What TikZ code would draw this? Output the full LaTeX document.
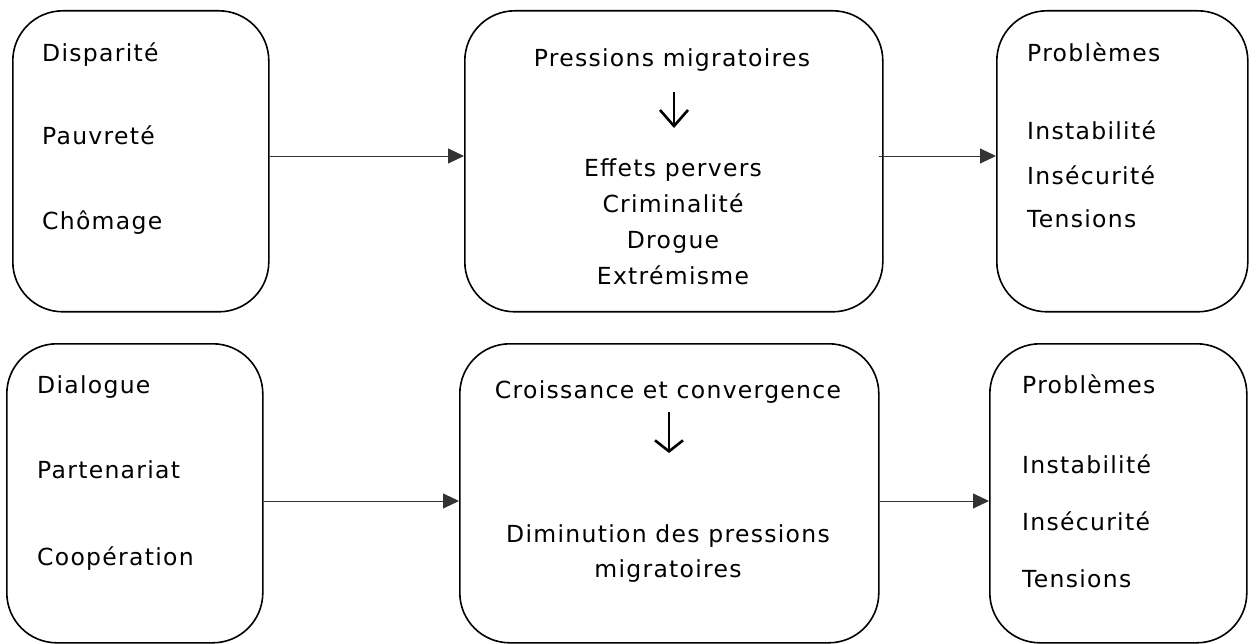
\documentclass[tikz,border=0pt]{standalone}
\usepackage{fontspec}
\setmainfont{DejaVu Sans}[LetterSpace=5.5]
\usetikzlibrary{arrows.meta}
\begin{document}
\begin{tikzpicture}[x=1pt,y=-1pt,
  box/.style={draw=black,line width=1.6pt,rounded corners=50pt,inner sep=0pt,anchor=north west},
  txt/.style={inner sep=0pt,font=\fontsize{23.5pt}{28pt}\selectfont},
  lt/.style={txt,anchor=base west},
  ct/.style={txt,anchor=base},
  conn/.style={draw=black!80,line width=0.9pt,-{Triangle[length=16pt,width=15pt]}},
  down/.style={line width=2.6pt,-{Straight Barb[length=#1,width=28pt,line width=2.6pt]}}
]
\useasboundingbox (0,0) rectangle (1250,644);
% boxes
\node[box,minimum width=256pt,minimum height=301pt] (T1) at (12,10) {};
\node[box,minimum width=418pt,minimum height=301pt] (T2) at (464,10) {};
\node[box,minimum width=251pt,minimum height=301pt] (T3) at (996,10) {};
\node[box,minimum width=256pt,minimum height=299pt] (B1) at (6,343) {};
\node[box,minimum width=419pt,minimum height=299pt] (B2) at (459,343) {};
\node[box,minimum width=257pt,minimum height=299pt] (B3) at (989,343) {};
% top left texts
\node[lt] (t11) at (42,62) {Disparité};
\node[lt] (t12) at (42,145) {Pauvreté};
\node[lt] (t13) at (42,230) {Chômage};
% top middle
\node[ct] (t21) at (672,67) {Pressions migratoires};
\node[ct] (t22) at (673,177) {Effets pervers};
\node[ct] (t23) at (673,213) {Criminalité};
\node[ct] (t24) at (673,249) {Drogue};
\node[ct] (t25) at (673,285) {Extrémisme};
\coordinate (a1s) at (674,92);
\coordinate (a1e) at (674,128);
\draw[down=16pt] (a1s) -- (a1e);
% top right
\node[lt] (t31) at (1027,62) {Problèmes};
\node[lt] (t32) at (1027,140) {Instabilité};
\node[lt] (t33) at (1027,185) {Insécurité};
\node[lt] (t34) at (1027,228) {Tensions};
% bottom left
\node[lt] (b11) at (37,393) {Dialogue};
\node[lt] (b12) at (37,478) {Partenariat};
\node[lt] (b13) at (37,565) {Coopération};
% bottom middle
\node[ct] (b21) at (668,398) {Croissance et convergence};
\node[ct] (b22) at (668,542) {Diminution des pressions};
\node[ct] (b23) at (668,577) {migratoires};
\coordinate (a2s) at (669,412);
\coordinate (a2e) at (669,453);
\draw[down=11pt] (a2s) -- (a2e);
% bottom right
\node[lt] (b31) at (1022,393) {Problèmes};
\node[lt] (b32) at (1022,473) {Instabilité};
\node[lt] (b33) at (1022,530) {Insécurité};
\node[lt] (b34) at (1022,587) {Tensions};
% connectors
\draw[conn] (T1.east |- 0,156) -- (T2.west |- 0,156);
\draw[conn] ([xshift=-5pt]T2.east |- 0,156) -- (T3.west |- 0,156);
\draw[conn] (B1.east |- 0,501) -- (B2.west |- 0,501);
\draw[conn] (B2.east |- 0,501) -- (B3.west |- 0,501);
\end{tikzpicture}
\end{document}
